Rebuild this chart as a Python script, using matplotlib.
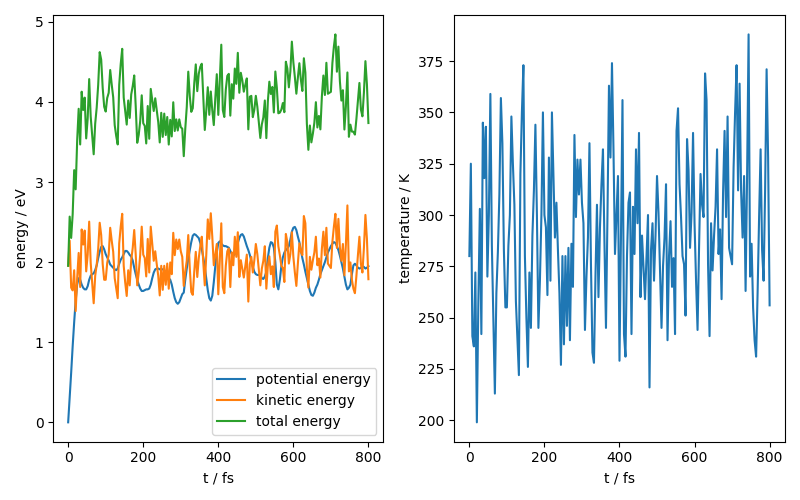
import numpy as np
import matplotlib
matplotlib.use("Agg")
import matplotlib.pyplot as plt

# time grid, 4 fs step
t = np.arange(0, 801, 4)

# temperature in K
temperature = [
    280, 325, 241, 236, 272, 199, 258, 303, 242, 345,
    318, 343, 270, 300, 359, 285, 248, 213, 262, 282,
    310, 357, 335, 283, 255, 255, 285, 300, 348, 325,
    305, 258, 240, 222, 320, 350, 373, 280, 250, 226,
    272, 245, 290, 312, 344, 300, 245, 268, 300, 350,
    300, 294, 261, 328, 268, 350, 319, 289, 306, 283,
    262, 227, 280, 237, 280, 246, 284, 239, 286, 265,
    339, 299, 327, 310, 327, 306, 296, 244, 270, 289,
    335, 276, 233, 228, 270, 305, 260, 294, 315, 332,
    286, 245, 300, 363, 328, 374, 332, 281, 300, 319,
    229, 290, 356, 242, 231, 280, 306, 311, 242, 304,
    281, 332, 296, 340, 260, 290, 275, 259, 280, 300,
    216, 283, 296, 268, 290, 319, 301, 273, 245, 275,
    289, 315, 239, 280, 297, 265, 279, 242, 341, 352,
    315, 299, 280, 276, 251, 337, 322, 284, 301, 340,
    296, 268, 244, 284, 320, 305, 299, 369, 356, 276,
    241, 296, 273, 290, 304, 332, 281, 293, 259, 311,
    341, 299, 348, 284, 280, 276, 323, 350, 373, 312,
    364, 312, 289, 319, 263, 319, 388, 270, 286, 255,
    239, 231, 262, 299, 332, 283, 268, 312, 371, 328,
    256,
]

# potential energy in eV
potential = [
    0.00, 0.30, 0.62, 0.95, 1.25, 1.52, 1.72, 1.80, 1.78, 1.72,
    1.68, 1.66, 1.66, 1.70, 1.78, 1.83, 1.85, 1.86, 1.90, 1.96,
    2.05, 2.13, 2.19, 2.20, 2.16, 2.10, 2.06, 2.02, 1.97, 1.95,
    1.93, 1.91, 1.90, 1.92, 1.98, 2.03, 2.06, 2.10, 2.14, 2.14,
    2.12, 2.09, 2.07, 2.02, 1.93, 1.85, 1.78, 1.72, 1.67, 1.64,
    1.64, 1.65, 1.66, 1.66, 1.67, 1.72, 1.80, 1.87, 1.91, 1.92,
    1.92, 1.91, 1.91, 1.91, 1.90, 1.87, 1.83, 1.80, 1.78, 1.72,
    1.63, 1.55, 1.50, 1.48, 1.50, 1.55, 1.60, 1.62, 1.78, 1.92,
    2.04, 2.15, 2.25, 2.33, 2.35, 2.34, 2.32, 2.30, 2.24, 2.16,
    2.06, 1.94, 1.80, 1.65, 1.55, 1.52, 1.58, 1.75, 1.95, 2.12,
    2.24, 2.26, 2.23, 2.21, 2.20, 2.20, 2.19, 2.18, 2.14, 2.10,
    2.08, 2.10, 2.16, 2.24, 2.30, 2.34, 2.35, 2.32, 2.26, 2.20,
    2.15, 2.09, 2.01, 1.94, 1.88, 1.85, 1.84, 1.84, 1.84, 1.80,
    1.79, 1.82, 1.88, 2.05, 2.18, 2.25, 2.24, 2.18, 2.00, 1.72,
    1.66, 1.78, 1.95, 2.06, 2.12, 2.15, 2.17, 2.20, 2.28, 2.38,
    2.43, 2.44, 2.40, 2.32, 2.25, 2.15, 2.05, 1.97, 1.88, 1.80,
    1.72, 1.64, 1.59, 1.58, 1.62, 1.68, 1.72, 1.78, 1.85, 1.90,
    1.95, 2.00, 2.06, 2.12, 2.16, 2.20, 2.23, 2.25, 2.24, 2.20,
    2.15, 2.08, 2.00, 1.92, 1.82, 1.72, 1.66, 1.68, 1.72, 1.85,
    1.96, 1.98, 1.96, 1.93, 1.92, 1.93, 1.95, 1.94, 1.92, 1.93,
    1.95,
]

n_atoms = 54
kB = 8.617333e-5  # eV/K

temperature = np.array(temperature, dtype=float)
potential = np.array(potential)
kinetic = 1.5 * n_atoms * kB * temperature
total = potential + kinetic

fig, (ax1, ax2) = plt.subplots(1, 2, figsize=(8, 5), dpi=100)

ax1.plot(t, potential, label="potential energy")
ax1.plot(t, kinetic, label="kinetic energy")
ax1.plot(t, total, label="total energy")
ax1.set_xlabel("t / fs")
ax1.set_ylabel("energy / eV")
ax1.legend(loc="lower right")

ax2.plot(t, temperature)
ax2.set_xlabel("t / fs")
ax2.set_ylabel("temperature / K")

fig.tight_layout()
fig.savefig("out.png")
